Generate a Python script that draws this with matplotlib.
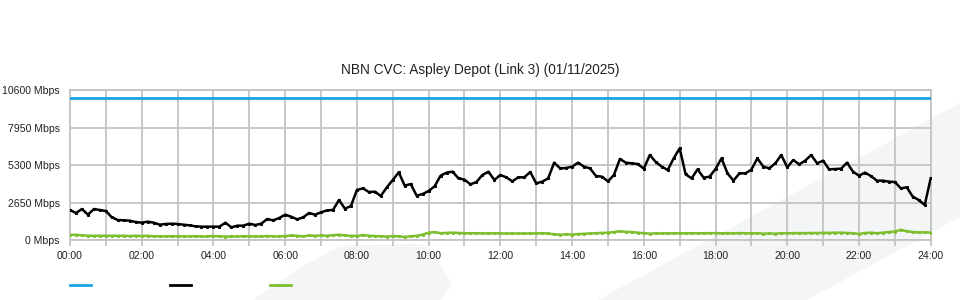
import matplotlib
matplotlib.use('Agg')
import matplotlib.pyplot as plt
import matplotlib.patches
import matplotlib.lines
import numpy as np

# samples every 10 minutes, 00:00 .. 24:00
step_minutes = 10

capacity = 10000  # Mbps

traffic_in = [
    2120, 1908, 2190, 1790, 2190, 2120, 2050, 1600, 1413, 1390, 1366, 1272,
    1225, 1296, 1225, 1084, 1130, 1154, 1130, 1084, 1036, 966, 942, 942,
    942, 942, 1225, 895, 1013, 1013, 1154, 1060, 1154, 1484, 1390, 1555,
    1790, 1650, 1460, 1600, 1908, 1790, 1955, 2096, 2120, 2827, 2214, 2403,
    3533, 3651, 3392, 3415, 3109, 3722, 4240, 4782, 3840, 3957, 3132, 3250,
    3463, 3793, 4546, 4759, 4829, 4358, 4264, 3934, 4099, 4594, 4829, 4240,
    4594, 4429, 4146, 4429, 4429, 4806, 4005, 4123, 4358, 5465, 5065, 5088,
    5183, 5465, 5183, 5065, 4523, 4476, 4146, 4594, 5724, 5465, 5418, 5371,
    5041, 6007, 5512, 5183, 4947, 5771, 6478, 4641, 4358, 4994, 4405, 4476,
    5018, 5771, 4711, 4193, 4711, 4711, 4971, 5771, 5183, 5065, 5418, 6007,
    5136, 5654, 5347, 5607, 6007, 5418, 5607, 4994, 5018, 5041, 5465, 4829,
    4546, 4759, 4523, 4193, 4193, 4123, 4099, 3651, 3722, 3062, 2827, 2473,
    4358,
]

traffic_out = [
    360, 370, 330, 300, 300, 300, 300, 300, 300, 300, 280, 300,
    280, 300, 260, 260, 260, 260, 260, 250, 260, 260, 250, 250,
    280, 260, 240, 250, 250, 260, 260, 250, 250, 280, 260, 250,
    280, 320, 300, 250, 320, 300, 320, 300, 340, 380, 320, 300,
    280, 350, 300, 280, 260, 240, 280, 260, 220, 260, 300, 380,
    520, 560, 480, 500, 520, 500, 480, 480, 480, 470, 460, 480,
    460, 460, 460, 460, 460, 460, 470, 480, 460, 400, 380, 400,
    380, 420, 440, 460, 480, 500, 520, 560, 620, 580, 560, 520,
    480, 450, 470, 460, 470, 470, 480, 470, 480, 470, 480, 480,
    490, 470, 480, 460, 490, 480, 470, 480, 450, 460, 450, 480,
    480, 480, 490, 480, 500, 490, 510, 500, 520, 520, 500, 470,
    430, 500, 520, 480, 520, 560, 600, 720, 620, 560, 540, 540,
    520,
]

y_ticks = [0, 2650, 5300, 7950, 10600]
y_labels = ['0 Mbps', '2650 Mbps', '5300 Mbps', '7950 Mbps', '10600 Mbps']
x_ticks = list(range(0, 25, 2))
x_labels = ['%02d:00' % h for h in x_ticks]

title = 'NBN CVC: Aspley Depot (Link 3) (01/11/2025)'

blue = '#1aa3e3'
green = '#7cc030'
grid_col = '#c4c4c4'

plt.rcParams['font.family'] = ['Liberation Sans', 'DejaVu Sans']

W, H = 960, 300
fig = plt.figure(figsize=(9.6, 3.0), dpi=100)


def px(x, y):
    return (x / W, 1 - y / H)


# faint watermark shapes behind the chart
stripe = [px(598, 300), px(960, 103), px(960, 217), px(807, 300)]
blob = [px(253, 300), px(300, 268), px(330, 251), px(350, 245), px(420, 244),
        px(430, 248), px(452, 285), px(440, 300)]
for shape in (stripe, blob):
    fig.patches.append(matplotlib.patches.Polygon(shape, closed=True, transform=fig.transFigure,
                                                  facecolor='#f4f5f7', edgecolor='none', zorder=-5))

ax = fig.add_axes([70 / W, 1 - 240 / H, (930.7 - 70) / W, 150 / H])
ax.set_zorder(1)
ax.patch.set_alpha(0)

hours = np.arange(len(traffic_in)) * step_minutes / 60.0

ax.axhline(capacity, color=blue, lw=2, zorder=3)
ax.plot(hours, traffic_out, color=green, lw=1.8, marker='s', ms=1.2, zorder=3)
ax.plot(hours, traffic_in, color='black', lw=1.8, marker='s', ms=1.2, zorder=4)

ax.set_xlim(0, 24)
ax.set_ylim(0, 10600)
ax.set_yticks(y_ticks)
ax.set_yticklabels(y_labels)
ax.set_xticks(x_ticks)
ax.set_xticklabels(x_labels)
ax.set_xticks(range(1, 24, 2), minor=True)

ax.grid(True, which='both', color=grid_col, lw=1.3, zorder=1)
for s in ax.spines.values():
    s.set_color(grid_col)
    s.set_linewidth(1.3)
ax.tick_params(axis='x', which='both', length=4, color=grid_col, width=1.3, labelsize=7.6,
               pad=4, labelcolor='#222222')
ax.tick_params(axis='y', length=0, labelsize=7.6, pad=7.5, labelcolor='#222222')

fig.text(0.5, 1 - 70 / H, title, ha='center', va='center', fontsize=9.8, color='#222222')

# legend swatches (labels are not shown in the source)
for x0, c in ((70, blue), (170, 'black'), (270, green)):
    fig.lines.append(matplotlib.lines.Line2D([x0 / W, (x0 + 21) / W], [1 - 285 / H] * 2,
                                             transform=fig.transFigure, color=c, lw=2))

fig.savefig('out.png', dpi=100)
